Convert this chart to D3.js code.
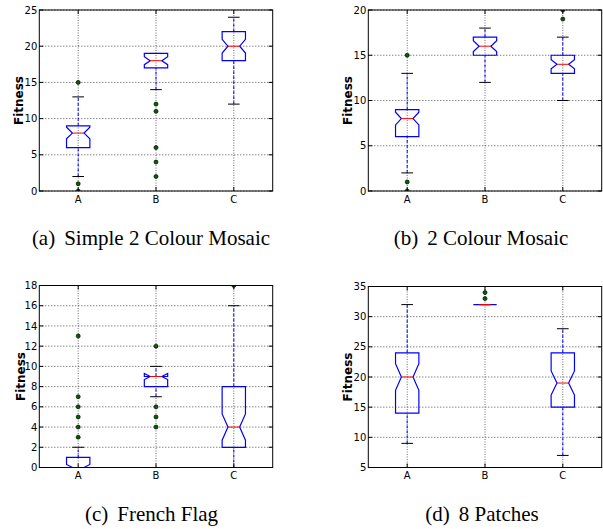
<!DOCTYPE html>
<html>
<head>
<meta charset="utf-8">
<script src="https://cdn.jsdelivr.net/npm/d3@7"></script>
<style>
    html, body { margin: 0; padding: 0; background: #fff; }
    svg { display: block; }
    .tick-label { font-family: "DejaVu Sans", sans-serif; font-size: 10px; fill: #000; }
    .ylab { font-family: "DejaVu Sans", sans-serif; font-weight: bold; font-size: 12px; fill: #000; }
    .caption { font-family: "Liberation Serif", "Times New Roman", serif; font-size: 21px; fill: #000; }
</style>
</head>
<body>
<svg id="chart" width="603" height="529"></svg>
<script>
var categories = ["A", "B", "C"];
var captionTags = ["(a)", "(b)", "(c)", "(d)"];
var captionTitles = ["Simple 2 Colour Mosaic", "2 Colour Mosaic", "French Flag", "8 Patches"];
var yMin = [0, 0, 0, 5];
var yMax = [25, 20, 18, 35];
var yStep = [5, 5, 2, 5];

// one row per panel, one value per category A, B, C
var whiskerLow  = [[2, 14, 12], [2, 12, 10], [0, 7, 0], [9, 32, 7]];
var q1          = [[6, 17, 18], [6, 15, 13], [0, 8, 2], [14, 32, 15]];
var median      = [[8, 18, 20], [8, 16, 14], [0, 9, 4], [20, 32, 19]];
var q3          = [[9, 19, 22], [9, 17, 15], [1, 9, 8], [24, 32, 24]];
var whiskerHigh = [[13, 19, 24], [13, 18, 17], [2, 10, 16], [32, 32, 28]];
var notchLow    = [[7.2, 17.45, 19.05], [7.3, 15.4, 13.5], [-0.3, 8.7, 2.7], [17.8, 32, 17]];
var notchHigh   = [[8.8, 18.55, 20.95], [8.7, 16.6, 14.5], [0.3, 9.3, 5.3], [22.2, 32, 21]];
var fliers = [
    [[15, 1, 0], [12, 11, 6, 4, 2], []],
    [[15, 1, 0], [], [19, 20]],
    [[13, 7, 6, 5, 4, 3], [12, 6, 5, 4], [18]],
    [[], [34, 33], []]
];

// where each panel sits on the page
var frames = [
    {left: 39.3, right: 272.7, top: 10, bottom: 191, ylabX: 18.5, capX: 151, capY: 245},
    {left: 368.3, right: 601.7, top: 10, bottom: 191, ylabX: 347.7, capX: 481, capY: 245},
    {left: 39.3, right: 272.7, top: 285.5, bottom: 467.5, ylabX: 21, capX: 151.5, capY: 520.5},
    {left: 368.3, right: 601.7, top: 286.5, bottom: 467.5, ylabX: 347.7, capX: 482, capY: 520.5}
];

var svg = d3.select("#chart");
var boxW = 0.3, capW = 0.15;

frames.forEach(function(f, p) {
    var x = d3.scaleLinear().domain([0.5, 3.5]).range([f.left, f.right]);
    var y = d3.scaleLinear().domain([yMin[p], yMax[p]]).range([f.bottom, f.top]);
    var ticks = d3.range(yMin[p], yMax[p] + 0.001, yStep[p]);
    var g = svg.append("g");

    var clipId = "clip" + p;
    svg.append("clipPath").attr("id", clipId).append("rect")
        .attr("x", f.left).attr("y", f.top)
        .attr("width", f.right - f.left).attr("height", f.bottom - f.top);

    // grid
    g.selectAll(".hg").data(ticks).enter().append("line")
        .attr("x1", f.left).attr("x2", f.right)
        .attr("y1", function(d) { return y(d); }).attr("y2", function(d) { return y(d); })
        .attr("stroke", "#222").attr("stroke-width", 0.8).attr("stroke-dasharray", "1,2");
    g.selectAll(".vg").data(categories).enter().append("line")
        .attr("x1", function(d, i) { return x(i + 1); }).attr("x2", function(d, i) { return x(i + 1); })
        .attr("y1", f.top).attr("y2", f.bottom)
        .attr("stroke", "#444").attr("stroke-width", 0.8).attr("stroke-dasharray", "1,1.5");

    var plot = g.append("g").attr("clip-path", "url(#" + clipId + ")");

    categories.forEach(function(c, i) {
        var pos = i + 1;
        var bl = x(pos - boxW / 2), br = x(pos + boxW / 2);
        var nl = x(pos - boxW / 4), nr = x(pos + boxW / 4);
        var cl = x(pos - capW / 2), cr = x(pos + capW / 2);

        // whiskers
        [[whiskerLow[p][i], q1[p][i]], [q3[p][i], whiskerHigh[p][i]]].forEach(function(w) {
            plot.append("line")
                .attr("x1", x(pos)).attr("x2", x(pos))
                .attr("y1", y(w[0])).attr("y2", y(w[1]))
                .attr("stroke", "#0000ff").attr("stroke-width", 1)
                .attr("stroke-dasharray", "3,2");
        });
        // caps
        [whiskerLow[p][i], whiskerHigh[p][i]].forEach(function(v) {
            plot.append("line")
                .attr("x1", cl).attr("x2", cr)
                .attr("y1", y(v)).attr("y2", y(v))
                .attr("stroke", "#000").attr("stroke-width", 1);
        });
        // notched box
        var pts = [
            [bl, y(q1[p][i])], [bl, y(notchLow[p][i])], [nl, y(median[p][i])],
            [bl, y(notchHigh[p][i])], [bl, y(q3[p][i])], [br, y(q3[p][i])],
            [br, y(notchHigh[p][i])], [nr, y(median[p][i])], [br, y(notchLow[p][i])],
            [br, y(q1[p][i])]
        ];
        plot.append("path")
            .attr("d", d3.line()(pts) + "Z")
            .attr("fill", "none").attr("stroke", "#0000ff").attr("stroke-width", 1.2)
            .attr("stroke-linejoin", "miter");
        // median
        plot.append("line")
            .attr("x1", nl).attr("x2", nr)
            .attr("y1", y(median[p][i])).attr("y2", y(median[p][i]))
            .attr("stroke", "#ff0000").attr("stroke-width", 1);
        // outliers
        plot.selectAll(".fl" + i).data(fliers[p][i]).enter().append("circle")
            .attr("cx", x(pos)).attr("cy", function(d) { return y(d); })
            .attr("r", 2).attr("fill", "#006400").attr("stroke", "#000").attr("stroke-width", 0.7);
    });

    // inward ticks on all sides
    ticks.forEach(function(t) {
        g.append("line").attr("x1", f.left).attr("x2", f.left + 4)
            .attr("y1", y(t)).attr("y2", y(t)).attr("stroke", "#000");
        g.append("line").attr("x1", f.right - 4).attr("x2", f.right)
            .attr("y1", y(t)).attr("y2", y(t)).attr("stroke", "#000");
    });
    categories.forEach(function(c, i) {
        g.append("line").attr("x1", x(i + 1)).attr("x2", x(i + 1))
            .attr("y1", f.bottom - 4).attr("y2", f.bottom).attr("stroke", "#000");
        g.append("line").attr("x1", x(i + 1)).attr("x2", x(i + 1))
            .attr("y1", f.top).attr("y2", f.top + 4).attr("stroke", "#000");
    });

    // frame
    g.append("rect")
        .attr("x", f.left).attr("y", f.top)
        .attr("width", f.right - f.left).attr("height", f.bottom - f.top)
        .attr("fill", "none").attr("stroke", "#000").attr("stroke-width", 1);

    // tick labels
    g.selectAll(".yl").data(ticks).enter().append("text")
        .attr("class", "tick-label")
        .attr("x", f.left - 2).attr("y", function(d) { return y(d); })
        .attr("dy", "0.36em").attr("text-anchor", "end")
        .text(function(d) { return d; });
    g.selectAll(".xl").data(categories).enter().append("text")
        .attr("class", "tick-label")
        .attr("x", function(d, i) { return x(i + 1); }).attr("y", f.bottom + 11.5)
        .attr("text-anchor", "middle")
        .text(function(d) { return d; });

    // y label
    var cy = (f.top + f.bottom) / 2;
    g.append("text").attr("class", "ylab")
        .attr("transform", "translate(" + (f.ylabX + 4.3) + "," + cy + ") rotate(-90)")
        .attr("text-anchor", "middle")
        .text("Fitness");

    // caption
    var cap = g.append("text").attr("class", "caption")
        .attr("x", f.capX).attr("y", f.capY).attr("text-anchor", "middle");
    cap.append("tspan").text(captionTags[p]);
    cap.append("tspan").attr("dx", 9).text(captionTitles[p]);
});
</script>
</body>
</html>
